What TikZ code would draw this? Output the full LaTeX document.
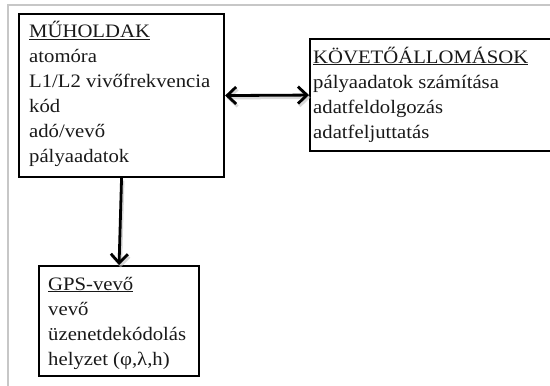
\documentclass[tikz,border=0pt]{standalone}
\usepackage{fontspec}
\setmainfont[FakeStretch=1.09]{Liberation Serif}
\usetikzlibrary{arrows.meta}
\tikzset{
  boxnode/.style={draw=black, line width=2.1pt, anchor=north west, inner sep=0pt, fill=white},
  txt/.style={anchor=base west, inner sep=0pt, text=black!90, font=\fontsize{19}{25}\selectfont},
  conn/.style={line width=2.8pt, draw=black, arrows={-Straight Barb[length=9pt,width=17pt]}},
  dconn/.style={line width=2.8pt, draw=black, arrows={Straight Barb[length=9pt,width=17pt]-Straight Barb[length=9pt,width=17pt]}},
  shade/.style={draw=black!25, opacity=0.6, transform canvas={shift={(1.5pt,-2.5pt)}}},
  framel/.style={draw=black!22, line width=1.6pt}
}
\newcommand{\hd}[1]{\setbox0\hbox{#1}\rlap{\usebox0}\rule[-2.2pt]{\wd0}{1pt}}
\begin{document}
\begin{tikzpicture}[x=1pt,y=-1pt]
\clip (0,0) rectangle (550,386);
\fill[white] (0,0) rectangle (550,386);
\draw[framel] (551,5) -- (8,5) -- (8,387);
% boxes
\node[boxnode, minimum width=205pt, minimum height=163pt] (m) at (18,13) {};
\node[boxnode, minimum width=250pt, minimum height=112pt] (k) at (309,38) {};
\node[boxnode, minimum width=160pt, minimum height=110pt] (g) at (38,265) {};
% texts
\node[txt] (mt) at (29,37.5) {\vtop{\baselineskip=25pt
  \hbox{\hd{MŰHOLDAK}}\hbox{atomóra}\hbox{L1/L2 vivőfrekvencia}\hbox{kód}\hbox{adó/vevő}\hbox{pályaadatok}}};
\node[txt] (kt) at (313,63) {\vtop{\baselineskip=25pt
  \hbox{\hd{KÖVETŐÁLLOMÁSOK}}\hbox{pályaadatok számítása}\hbox{adatfeldolgozás}\hbox{adatfeljuttatás}}};
\node[txt] (gt) at (48,290) {\vtop{\baselineskip=25pt
  \hbox{\hd{GPS-vevő}}\hbox{vevő}\hbox{üzenetdekódolás}\hbox{helyzet (φ,λ,h)}}};
% connectors
\draw[dconn, shade] (m.east) -- (k.west);
\draw[conn, shade] (m.south) -- (g.north);
\draw[dconn] (m.east) -- (k.west);
\draw[conn] (m.south) -- (g.north);
\end{tikzpicture}
\end{document}
